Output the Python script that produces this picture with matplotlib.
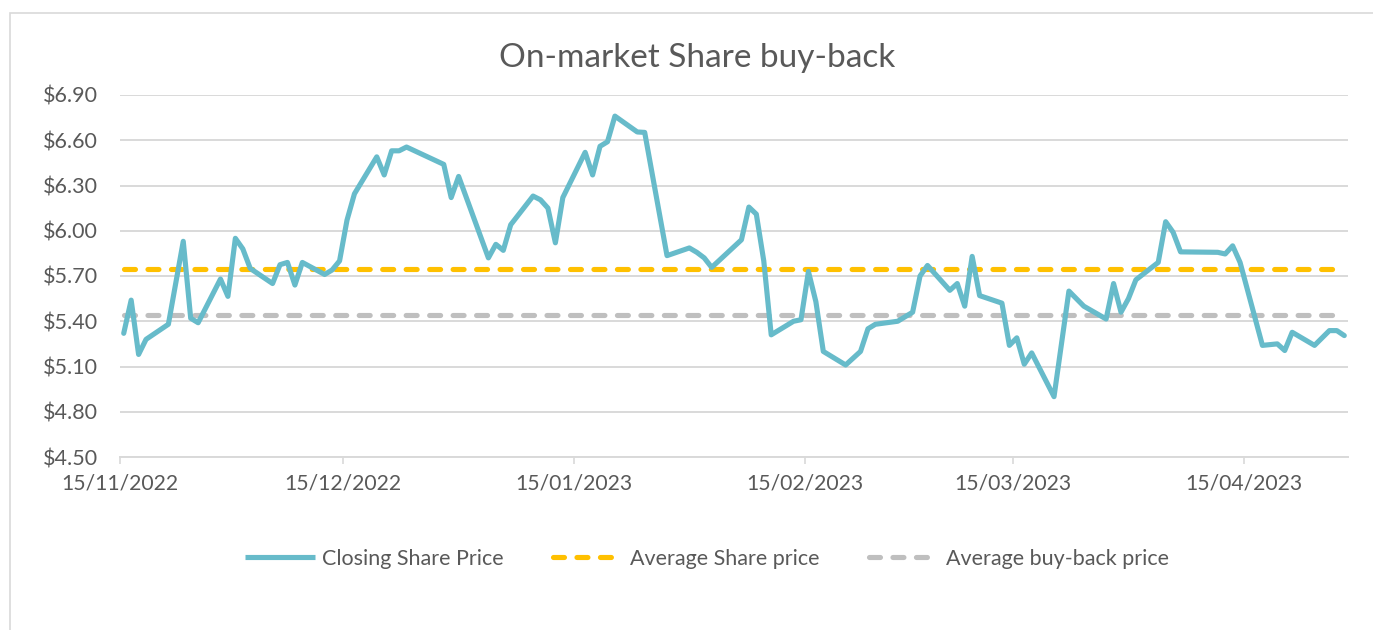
import matplotlib
matplotlib.use("Agg")
import matplotlib.pyplot as plt
import matplotlib.dates as mdates
from matplotlib.patches import Rectangle
from matplotlib.lines import Line2D
import pandas as pd
import numpy as np

# ---------------- data ----------------
dates = [
    "2022-11-15", "2022-11-16", "2022-11-17", "2022-11-18", "2022-11-21",
    "2022-11-23", "2022-11-24", "2022-11-25", "2022-11-28", "2022-11-29",
    "2022-11-30", "2022-12-01", "2022-12-02", "2022-12-05", "2022-12-06",
    "2022-12-07", "2022-12-08", "2022-12-09", "2022-12-12", "2022-12-13",
    "2022-12-14", "2022-12-15", "2022-12-16", "2022-12-19", "2022-12-20",
    "2022-12-21", "2022-12-22", "2022-12-23", "2022-12-28", "2022-12-29",
    "2022-12-30", "2023-01-03", "2023-01-04", "2023-01-05", "2023-01-06",
    "2023-01-09", "2023-01-10", "2023-01-11", "2023-01-12", "2023-01-13",
    "2023-01-16", "2023-01-17", "2023-01-18", "2023-01-19", "2023-01-20",
    "2023-01-23", "2023-01-24", "2023-01-27", "2023-01-30", "2023-01-31",
    "2023-02-01", "2023-02-02", "2023-02-06", "2023-02-07", "2023-02-08",
    "2023-02-09", "2023-02-10", "2023-02-13", "2023-02-14", "2023-02-15",
    "2023-02-16", "2023-02-17", "2023-02-20", "2023-02-22", "2023-02-23",
    "2023-02-24", "2023-02-27", "2023-03-01", "2023-03-02", "2023-03-03",
    "2023-03-06", "2023-03-07", "2023-03-08", "2023-03-09", "2023-03-10",
    "2023-03-13", "2023-03-14", "2023-03-15", "2023-03-16", "2023-03-17",
    "2023-03-20", "2023-03-22", "2023-03-24", "2023-03-27", "2023-03-28",
    "2023-03-29", "2023-03-30", "2023-03-31", "2023-04-03", "2023-04-04",
    "2023-04-05", "2023-04-06", "2023-04-11", "2023-04-12", "2023-04-13",
    "2023-04-14", "2023-04-17", "2023-04-19", "2023-04-20", "2023-04-21",
    "2023-04-24", "2023-04-26", "2023-04-27", "2023-04-28",
]
closing_price = [
    5.32, 5.54, 5.18, 5.28, 5.38,
    5.93, 5.42, 5.39, 5.68, 5.565,
    5.95, 5.88, 5.75, 5.65, 5.775,
    5.79, 5.64, 5.79, 5.71, 5.74,
    5.80, 6.07, 6.245, 6.49, 6.37,
    6.53, 6.53, 6.555, 6.44, 6.22,
    6.36, 5.82, 5.91, 5.87, 6.04,
    6.23, 6.205, 6.15, 5.92, 6.22,
    6.52, 6.37, 6.56, 6.59, 6.76,
    6.655, 6.652, 5.835, 5.886, 5.857,
    5.82, 5.757, 5.94, 6.157, 6.11,
    5.80, 5.31, 5.40, 5.41, 5.73,
    5.53, 5.20, 5.11, 5.20, 5.35,
    5.38, 5.40, 5.46, 5.70, 5.77,
    5.605, 5.65, 5.50, 5.83, 5.57,
    5.52, 5.24, 5.29, 5.115, 5.19,
    4.90, 5.60, 5.50, 5.415, 5.65,
    5.46, 5.55, 5.675, 5.79, 6.06,
    5.99, 5.86, 5.857, 5.846, 5.90,
    5.79, 5.24, 5.25, 5.206, 5.327,
    5.24, 5.338, 5.338, 5.305,
]
avg_share_price = 5.745
avg_buyback_price = 5.444
tick_dates = ["2022-11-15", "2022-12-15", "2023-01-15",
              "2023-02-15", "2023-03-15", "2023-04-15"]
tick_labels = ["15/11/2022", "15/12/2022", "15/01/2023",
               "15/02/2023", "15/03/2023", "15/04/2023"]
y_ticks = [4.50, 4.80, 5.10, 5.40, 5.70, 6.00, 6.30, 6.60, 6.90]

# ---------------- style ----------------
FONT = ["Lato", "DejaVu Sans"]
plt.rcParams["font.family"] = FONT
plt.rcParams["lines.scale_dashes"] = False
TEXT = "#595959"
GRID = "#d9d9d9"
TEAL = "#67bbca"
ORANGE = "#ffc000"
GREY = "#bfbfbf"

W, H, DPI = 1373, 630, 100
fig = plt.figure(figsize=(W / DPI, H / DPI), dpi=DPI)
ax = fig.add_axes([120 / W, 1 - 457 / H, (1348 - 120) / W, (457 - 95) / H])

# outer chart frame (cut off at right/bottom like the screenshot)
fig.patches.append(Rectangle((10 / W, -0.1), 1.2, 1 - 13 / H + 0.1,
                             transform=fig.transFigure, fill=False,
                             edgecolor=GRID, linewidth=1.2))

d = pd.to_datetime(dates)
x = mdates.date2num(d) + 0.5   # Excel puts points in middle of each day band
x_full = np.array([x[0], x[-1]])

lw = 3.7
DASH = (7.9, 9.0)
ax.plot(x, closing_price, color=TEAL, lw=lw,
        solid_joinstyle="round", solid_capstyle="round", zorder=4)
ax.plot(x_full, [avg_share_price] * 2, color=ORANGE, lw=lw,
        dashes=DASH, dash_capstyle="round", zorder=3)
ax.plot(x_full, [avg_buyback_price] * 2, color=GREY, lw=lw,
        dashes=DASH, dash_capstyle="round", zorder=3)

x0 = mdates.date2num(pd.Timestamp(dates[0]))
x1 = mdates.date2num(pd.Timestamp(dates[-1])) + 1
ax.set_xlim(x0, x1)
ax.set_ylim(4.50, 6.90)

ax.set_yticks(y_ticks)
ax.set_yticklabels([f"${v:.2f}" for v in y_ticks])
ax.set_xticks(mdates.date2num(pd.to_datetime(tick_dates)))
ax.set_xticklabels(tick_labels)
ax.tick_params(axis="y", length=0, pad=16, labelsize=15.5, labelcolor=TEXT)
ax.tick_params(axis="x", length=5, width=1.2, color=GRID, pad=7,
               labelsize=15.2, labelcolor=TEXT)

ax.grid(axis="y", color=GRID, linewidth=1.4, zorder=0)
ax.set_axisbelow(True)
for s in ["top", "right", "left"]:
    ax.spines[s].set_visible(False)
ax.spines["bottom"].set_color(GRID)
ax.spines["bottom"].set_linewidth(1.4)

fig.text(697 / W, 1 - 58 / H, "On-market Share buy-back", ha="center",
         va="center", fontsize=24, color=TEXT)

handles = [
    Line2D([], [], color=TEAL, lw=lw, solid_capstyle="butt"),
    Line2D([], [], color=ORANGE, lw=lw, dashes=DASH, dash_capstyle="round"),
    Line2D([], [], color=GREY, lw=lw, dashes=DASH, dash_capstyle="round"),
]
labels = ["Closing Share Price", "Average Share price", "Average buy-back price"]
fig.legend(handles, labels, loc="center", bbox_to_anchor=(707 / W, 1 - 559 / H),
           ncol=3, frameon=False, fontsize=15.5, labelcolor=TEXT,
           handlelength=3.25, handletextpad=0.33, columnspacing=2.3)

fig.savefig("out.png", dpi=DPI)
